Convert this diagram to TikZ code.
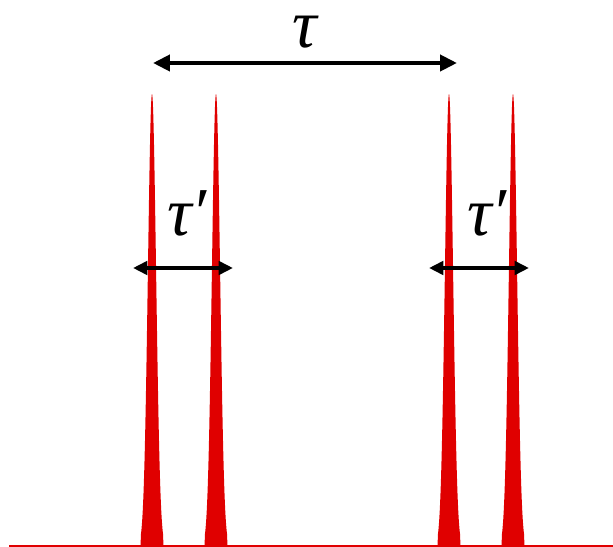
\documentclass[tikz,border=0pt]{standalone}
\usepackage{fontspec}
\setmainfont{Liberation Serif}
\usetikzlibrary{arrows.meta}
\definecolor{PulseRed}{HTML}{E00000}
\tikzset{
    % pulses and axis
    pulse/.style={fill=PulseRed, draw=none},
    axisline/.style={draw=PulseRed, line width=0.9pt},
    % delay arrows
    delayarrow/.style={
        {Triangle[length=0.34cm,width=0.32cm]}-{Triangle[length=0.34cm,width=0.32cm]},
        line width=2.3pt,
        draw=black
    },
    shortarrow/.style={
        {Triangle[length=0.29cm,width=0.27cm]}-{Triangle[length=0.29cm,width=0.27cm]},
        line width=2.1pt,
        draw=black
    },
    delaylabel/.style={font=\fontsize{39}{39}\selectfont\itshape, inner sep=0pt}
}
\begin{document}
\begin{tikzpicture}[x=0.02cm, y=-0.02cm]
    \useasboundingbox (0,0) rectangle (613,547);

    % baseline
    \coordinate (axisL) at (9,546);
    \coordinate (axisR) at (613,546);
    \draw[axisline] (axisL) -- (axisR);

    % four narrow pulses
    \foreach \px in {152,216,449,513}{
        \fill[pulse] ({\px-11.5},546) -- plot[domain=-11:11, samples=90, smooth]
            ({\px+\x},{546-452*exp(-\x*\x/33.6)}) -- ({\px+11.5},546) -- cycle;
    }

    % long delay
    \coordinate (tauL) at (153,63);
    \coordinate (tauR) at (457,63);
    \draw[delayarrow] (tauL) -- (tauR);
    \node[delaylabel] (tau) at (305,32) {τ};

    % short delays
    \coordinate (leftA) at (133,268);
    \coordinate (leftB) at (233,268);
    \coordinate (rightA) at (429,268);
    \coordinate (rightB) at (529,268);
    \draw[shortarrow] (leftA) -- (leftB);
    \draw[shortarrow] (rightA) -- (rightB);
    \node[delaylabel] (tauleft) at (187,213) {τ′};
    \node[delaylabel] (tauright) at (487,213) {τ′};
\end{tikzpicture}
\end{document}
